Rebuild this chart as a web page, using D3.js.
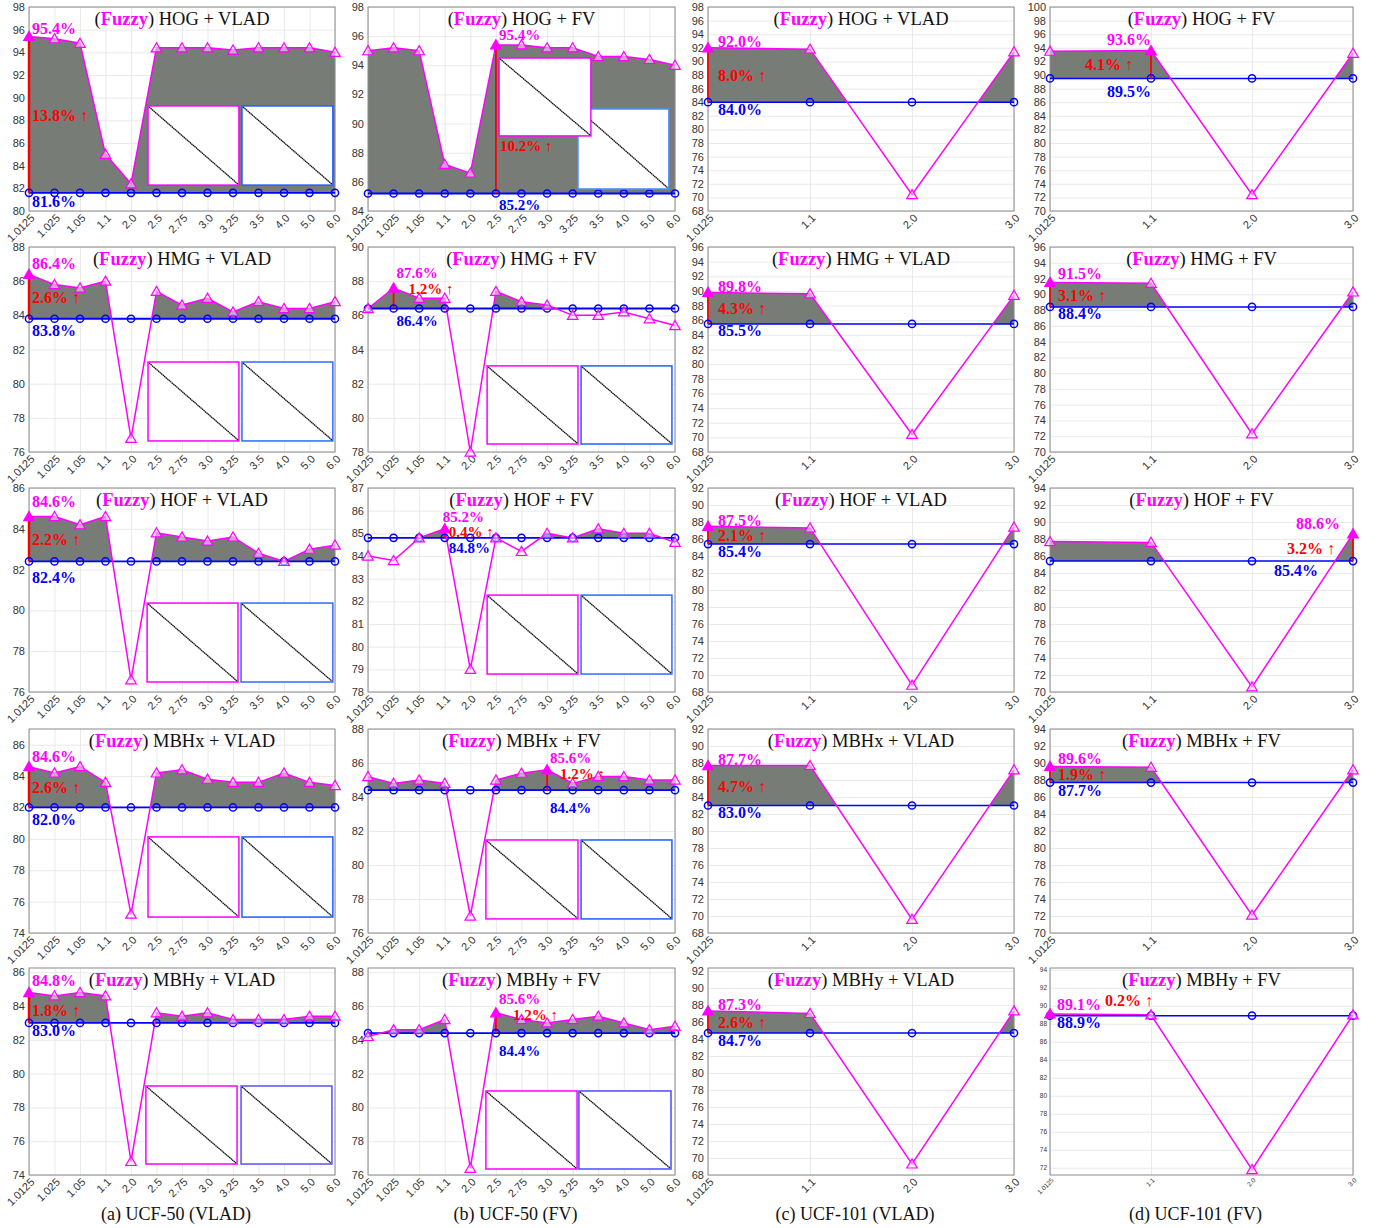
<!DOCTYPE html>
<html><head><meta charset="utf-8">
<script src="https://cdn.jsdelivr.net/npm/d3@7"></script>
<style>body{margin:0;background:#fff}svg{display:block}</style>
</head><body>
<svg id="c" width="1382" height="1228"></svg>
<script>
// ---------------- data ----------------
const scales50 = ["1.0125","1.025","1.05","1.1","2.0","2.5","2.75","3.0","3.25","3.5","4.0","5.0","6.0"];
const scales101 = ["1.0125","1.1","2.0","3.0"];
const features = ["HOG","HMG","HOF","MBHx","MBHy"];
const encodings = ["VLAD","FV","VLAD","FV"];
const captions = ["(a) UCF-50 (VLAD)","(b) UCF-50 (FV)","(c) UCF-101 (VLAD)","(d) UCF-101 (FV)"];

const fuzzy50Vlad = [
  [95.4,95.2,94.8,85.0,82.4,94.4,94.4,94.4,94.2,94.4,94.4,94.4,94.0],
  [86.4,85.8,85.6,86.0,76.8,85.4,84.6,85.0,84.2,84.8,84.4,84.4,84.8],
  [84.6,84.6,84.2,84.6,76.6,83.8,83.6,83.4,83.6,82.8,82.4,83.0,83.2],
  [84.6,84.2,84.6,83.6,75.2,84.2,84.4,83.8,83.6,83.6,84.2,83.6,83.4],
  [84.8,84.6,84.8,84.6,74.8,83.6,83.4,83.6,83.2,83.2,83.2,83.4,83.4]
];
const base50Vlad = [81.6,83.8,82.4,82.0,83.0];

const fuzzy50Fv = [
  [95.0,95.2,95.0,87.2,86.6,95.4,95.4,95.2,95.2,94.6,94.6,94.4,94.0],
  [86.4,87.6,87.0,87.0,78.0,87.4,86.8,86.6,86.0,86.0,86.2,85.8,85.4],
  [84.0,83.8,84.8,85.2,79.0,84.8,84.2,85.0,84.8,85.2,85.0,85.0,84.6],
  [85.2,84.8,85.0,84.8,77.0,85.0,85.4,85.6,84.8,85.2,85.2,85.0,85.0],
  [84.2,84.6,84.6,85.2,76.4,85.6,85.2,85.0,85.2,85.4,85.0,84.6,84.8]
];
const base50Fv = [85.2,86.4,84.8,84.4,84.4];

const fuzzy101Vlad = [
  [92.0,91.8,70.4,91.4],
  [89.8,89.6,70.4,89.4],
  [87.5,87.3,68.8,87.4],
  [87.7,87.7,69.6,87.2],
  [87.3,87.0,69.3,87.3]
];
const base101Vlad = [84.0,85.5,85.4,83.0,84.7];

const fuzzy101Fv = [
  [93.5,93.6,72.4,93.2],
  [91.5,91.4,72.3,90.3],
  [87.7,87.6,70.6,88.6],
  [89.6,89.5,72.1,89.2],
  [89.1,89.0,71.8,89.0]
];
const base101Fv = [89.5,88.4,85.4,87.7,88.9];

// ---------------- layout (not data) ----------------
const colLeft = [29,368,708,1050], colRight = [335,675,1014,1353];
const rowTop = [7,247,488,729,968], rowBottom = [211,452,692,933,1175];
const yDomains = [
  [[80,98],[84,98],[68,98],[70,100]],
  [[76,88],[78,90],[68,96],[70,96]],
  [[76,86],[78,87],[68,92],[70,94]],
  [[74,87],[76,88],[68,92],[70,94]],
  [[74,86.25],[76,88.25],[68,92.35],[71.2,94.2]]
];
const yStep = [[2,2,2,2],[2,2,2,2],[2,1,2,2],[2,2,2,2],[2,2,2,2]];
// label layout: [anchor, dx, dy] ; red: [anchor, dx, dy, ref]
const aCol = {m:["start",3,-11],r:["start",3,0,"mid"],b:["start",3,12]};
const cCol = {m:["start",10,-6],r:["start",10,0,"mid"],b:["start",10,7]};
const labelLayout = [
  [{m:["start",3,-8],r:["start",3,0,"mid"],b:["start",3,9]}, {m:["start",3,-10],r:["start",4,-48,"base"],b:["start",3,11]}, cCol, {m:["end",0,-11],r:["end",-18,0,"mid"],b:["end",0,13]}],
  [aCol, {m:["start",3,-15],r:["start",15,1,"best"],b:["start",3,12]}, cCol, {m:["start",8,-9],r:["start",8,0,"mid"],b:["start",8,7]}],
  [{m:["start",3,-15],r:["start",3,0,"mid"],b:["start",3,16]}, {m:["start",-2,-12],r:["start",4,3,"best"],b:["start",4,10]}, cCol, {m:["end",-13,-10],r:["end",-18,0,"mid"],b:["end",-35,9]}],
  [{m:["start",3,-10],r:["start",3,0,"mid"],b:["start",3,12]}, {m:["start",3,-12],r:["start",13,4,"best"],b:["start",3,18]}, cCol, {m:["start",8,-8],r:["start",8,0,"mid"],b:["start",8,8]}],
  [{m:["start",3,-12],r:["start",3,2,"mid"],b:["start",3,8]}, {m:["start",3,-14],r:["start",17,2,"best"],b:["start",3,18]}, cCol, {m:["start",7,-9],r:["start",55,-14,"best"],b:["start",7,7]}]
];
// inset boxes as fractions of the plot box: [x0,x1,y0,y1]
const insets = [
  [[[0.389,0.686,0.485,0.873],[0.696,0.993,0.485,0.873],"#1f5fff"], [[0.684,0.980,0.50,0.892],[0.427,0.726,0.25,0.632],"#4a90ff", true]],
  [[[0.389,0.686,0.561,0.946],[0.696,0.993,0.561,0.946],"#2a6cff"], [[0.388,0.684,0.580,0.961],[0.694,0.990,0.580,0.961],"#2060ff"]],
  [[[0.386,0.683,0.564,0.951],[0.693,0.993,0.564,0.951],"#2f6bff"], [[0.388,0.684,0.525,0.912],[0.694,0.990,0.525,0.912],"#2e6cff"]],
  [[[0.389,0.686,0.529,0.922],[0.696,0.993,0.529,0.922],"#1d5dff"], [[0.384,0.684,0.544,0.931],[0.694,0.990,0.544,0.931],"#1e5cff"]],
  [[[0.382,0.680,0.570,0.947],[0.693,0.990,0.570,0.947],"#5a50ff"], [[0.384,0.681,0.594,0.971],[0.687,0.987,0.594,0.971],"#4a4aff"]]
];

const MAG = "#ff00ff", BLUE = "#0000ff", RED = "#ff0000", FILL = "#777c77";
const serif = "'Liberation Serif','Times New Roman',serif";
const sans = "'Liberation Sans',Arial,sans-serif";

const svg = d3.select("#c");
const defs = svg.append("defs");
const fuzzyAll = [fuzzy50Vlad, fuzzy50Fv, fuzzy101Vlad, fuzzy101Fv];
const baseAll = [base50Vlad, base50Fv, base101Vlad, base101Fv];

function drawPanel(r, c) {
  const L = colLeft[c], R = colRight[c], T = rowTop[r], B = rowBottom[r];
  const cats = c < 2 ? scales50 : scales101;
  const vals = fuzzyAll[c][r], base = baseAll[c][r];
  const dom = yDomains[r][c];
  const small = (r === 4 && c === 3);
  const tickFont = small ? 6.5 : 11;
  const x = d3.scalePoint().domain(cats).range([L, R]);
  const y = d3.scaleLinear().domain(dom).range([B, T]);
  const g = svg.append("g");
  const st = yStep[r][c];
  const yt = d3.range(Math.ceil(dom[0] / st - 1e-9) * st, dom[1] + 1e-6, st);

  // grids
  const gy = g.append("g").attr("transform", `translate(${L},0)`)
    .call(d3.axisLeft(y).tickValues(yt).tickSize(-(R - L)).tickFormat(""));
  const gx = g.append("g").attr("transform", `translate(0,${B})`)
    .call(d3.axisBottom(x).tickSize(-(B - T)).tickFormat(""));
  [gy, gx].forEach(a => { a.select(".domain").remove(); a.selectAll("line").attr("stroke", "#e4e4e4").attr("stroke-width", 0.8); });

  // fill where fuzzy > baseline
  const cid = `clip${r}${c}`;
  defs.append("clipPath").attr("id", cid).append("rect")
    .attr("x", L).attr("y", T).attr("width", R - L).attr("height", y(base) - T);
  const area = d3.area().x((d, i) => x(cats[i])).y0(y(base)).y1(d => y(d));
  g.append("path").datum(vals).attr("d", area).attr("fill", FILL).attr("clip-path", `url(#${cid})`);

  // box
  g.append("rect").attr("x", L).attr("y", T).attr("width", R - L).attr("height", B - T)
    .attr("fill", "none").attr("stroke", "#8a8a8a").attr("stroke-width", 1);

  // tick labels
  const ay = g.append("g").attr("transform", `translate(${L},0)`)
    .call(d3.axisLeft(y).tickValues(yt).tickSize(0).tickPadding(small ? 3 : 4).tickFormat(d3.format("d")));
  ay.select(".domain").remove();
  ay.selectAll("text").attr("font-family", sans).attr("font-size", tickFont).attr("fill", "#333");
  const ax = g.append("g").attr("transform", `translate(0,${B})`)
    .call(d3.axisBottom(x).tickSize(0).tickFormat(d => d));
  ax.select(".domain").remove();
  ax.selectAll("text").attr("font-family", sans).attr("font-size", tickFont).attr("fill", "#333")
    .attr("text-anchor", "end").attr("dy", "0.35em")
    .attr("transform", `translate(${small ? 2 : 3},${small ? 4 : 5}) rotate(-45)`).attr("y", 0).attr("x", 0);

  // lines
  const line = d3.line().x((d, i) => x(cats[i])).y(d => y(d));
  g.append("path").datum(cats.map(() => base)).attr("d", line).attr("fill", "none")
    .attr("stroke", BLUE).attr("stroke-width", c < 2 ? 1.8 : 1.5);
  g.append("path").datum(vals).attr("d", line).attr("fill", "none")
    .attr("stroke", MAG).attr("stroke-width", 1.5);

  const bi = d3.maxIndex(vals);
  const bx = x(cats[bi]), by = y(vals[bi]), yb = y(base);

  // red arrow
  g.append("line").attr("x1", bx).attr("x2", bx).attr("y1", yb).attr("y2", by + 2)
    .attr("stroke", RED).attr("stroke-width", c === 0 ? 2.5 : 1.8);

  // markers
  g.selectAll(".circ").data(cats).join("circle")
    .attr("cx", d => x(d)).attr("cy", yb).attr("r", 3.6)
    .attr("fill", "none").attr("stroke", BLUE).attr("stroke-width", 1.5);
  const tri = d3.symbol().type(d3.symbolTriangle).size(48);
  g.selectAll(".tri").data(vals).join("path")
    .attr("d", tri).attr("transform", (d, i) => `translate(${x(cats[i])},${y(d) + 1})`)
    .attr("fill", (d, i) => i === bi ? MAG : "rgba(255,220,255,0.55)")
    .attr("stroke", MAG).attr("stroke-width", 1.2);

  // insets
  if (c < 2) {
    const ins = insets[r][c];
    const boxes = ins[3] ? [[ins[0], ins[2]], [ins[1], MAG]] : [[ins[0], MAG], [ins[1], ins[2]]];
    boxes.forEach(([f, col]) => {
      const x0 = L + f[0] * (R - L), x1 = L + f[1] * (R - L), y0 = T + f[2] * (B - T), y1 = T + f[3] * (B - T);
      g.append("rect").attr("x", x0).attr("y", y0).attr("width", x1 - x0).attr("height", y1 - y0)
        .attr("fill", "#fff").attr("stroke", col).attr("stroke-width", 1.5);
      g.append("line").attr("x1", x0 + 1).attr("y1", y0 + 1).attr("x2", x1 - 1).attr("y2", y1 - 1)
        .attr("stroke", "#111").attr("stroke-width", 1.3).attr("stroke-dasharray", "1.6,0.4");
    });
  }

  // value labels
  const lay = labelLayout[r][c];
  const fs = c === 1 ? 15 : 16;
  const gain = (vals[bi] - base).toFixed(1);
  g.append("text").attr("x", bx + lay.m[1]).attr("y", by + lay.m[2]).attr("text-anchor", lay.m[0])
    .attr("dominant-baseline", "central").attr("font-family", serif).attr("font-weight", "bold")
    .attr("font-size", fs).attr("fill", MAG).text(vals[bi].toFixed(1) + "%");
  const refY = lay.r[3] === "mid" ? (by + yb) / 2 : lay.r[3] === "best" ? by : yb;
  const t2 = g.append("text").attr("x", bx + lay.r[1]).attr("y", refY + lay.r[2]).attr("text-anchor", lay.r[0])
    .attr("dominant-baseline", "central").attr("font-family", serif)
    .attr("font-size", fs).attr("fill", RED);
  t2.append("tspan").attr("font-weight", "bold").text(gain + "%");
  t2.append("tspan").text(" \u2191");
  g.append("text").attr("x", bx + lay.b[1]).attr("y", yb + lay.b[2]).attr("text-anchor", lay.b[0])
    .attr("dominant-baseline", "central").attr("font-family", serif).attr("font-weight", "bold")
    .attr("font-size", fs).attr("fill", BLUE).text(base.toFixed(1) + "%");

  // title
  const tt = g.append("text").attr("x", (L + R) / 2).attr("y", T + 12).attr("text-anchor", "middle")
    .attr("dominant-baseline", "central").attr("font-family", serif).attr("font-size", 18.5).attr("fill", "#111");
  tt.append("tspan").text("(");
  tt.append("tspan").attr("font-weight", "bold").attr("fill", MAG).text("Fuzzy");
  tt.append("tspan").text(`) ${features[r]} + ${encodings[c]}`);
}

for (let r = 0; r < 5; r++) for (let c = 0; c < 4; c++) drawPanel(r, c);

captions.forEach((t, c) => {
  svg.append("text").attr("x", (colLeft[c] + colRight[c]) / 2 - 6).attr("y", 1220)
    .attr("text-anchor", "middle").attr("font-family", serif).attr("font-size", 18).attr("fill", "#111").text(t);
});
</script>
</body></html>
